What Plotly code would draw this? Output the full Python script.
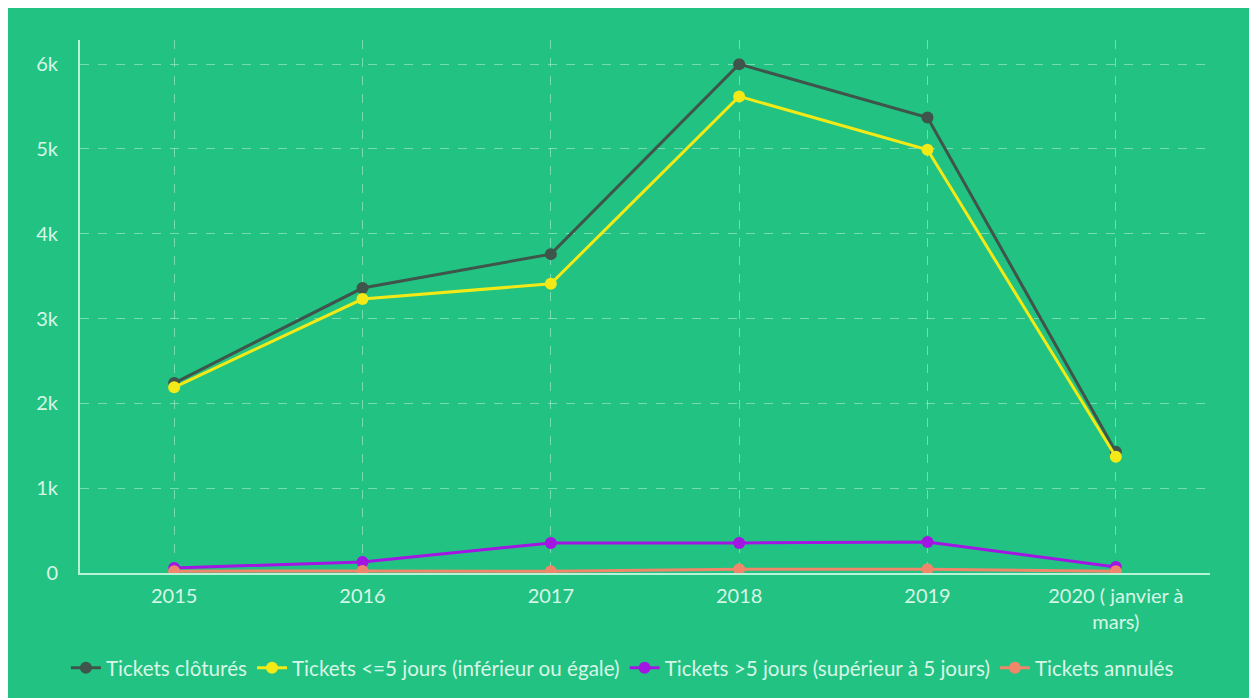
import plotly.graph_objects as go

categories = ["2015", "2016", "2017", "2018", "2019", "2020 ( janvier à<br>mars)"]
clotures = [2240, 3360, 3760, 6000, 5370, 1430]
inf5 = [2190, 3230, 3410, 5620, 4990, 1370]
sup5 = [60, 130, 354, 354, 365, 70]
annules = [20, 25, 20, 45, 45, 20]

series = [
    ("Tickets clôturés", clotures, "#3f544a"),
    ("Tickets <=5 jours (inférieur ou égale)", inf5, "#f2e917"),
    ("Tickets >5 jours (supérieur à 5 jours)", sup5, "#a315e3"),
    ("Tickets annulés", annules, "#f0866a"),
]

GREEN = "#22c382"
MINT = "#b9f3d7"
TXT = "#d8f6e7"
GRID = "rgba(200,245,225,0.5)"

fig = go.Figure()
for name, vals, col in series:
    fig.add_trace(go.Scatter(
        x=categories, y=vals, name=name, mode="lines+markers",
        line=dict(color=col, width=3),
        marker=dict(color=col, size=12),
    ))

fig.update_layout(
    width=1257, height=698,
    paper_bgcolor=GREEN, plot_bgcolor=GREEN,
    margin=dict(l=72, r=55, t=32, b=133),
    font=dict(family="Lato", size=20, color=TXT),
    showlegend=True,
    legend=dict(orientation="h", x=0.48, xanchor="center", y=-0.178, yanchor="middle",
                font=dict(size=20.6, color=TXT), bgcolor="rgba(0,0,0,0)", itemwidth=30),
    xaxis=dict(type="category", range=[-0.5, 5.5], showgrid=True, gridcolor=GRID,
               griddash="dash", gridwidth=1, showline=True, linecolor=MINT, linewidth=2,
               ticks="", zeroline=False, ticklabelstandoff=4,
               tickfont=dict(size=20, color=TXT)),
    yaxis=dict(range=[0, 6285], tickvals=[0, 1000, 2000, 3000, 4000, 5000, 6000],
               ticktext=["0", "1k", "2k", "3k", "4k", "5k", "6k"],
               showgrid=True, gridcolor=GRID, griddash="dash", gridwidth=1,
               showline=True, linecolor=MINT, linewidth=2, zeroline=False,
               ticks="", ticklabelstandoff=16, tickfont=dict(size=20, color=TXT)),
)

fig.write_html("out.html")
